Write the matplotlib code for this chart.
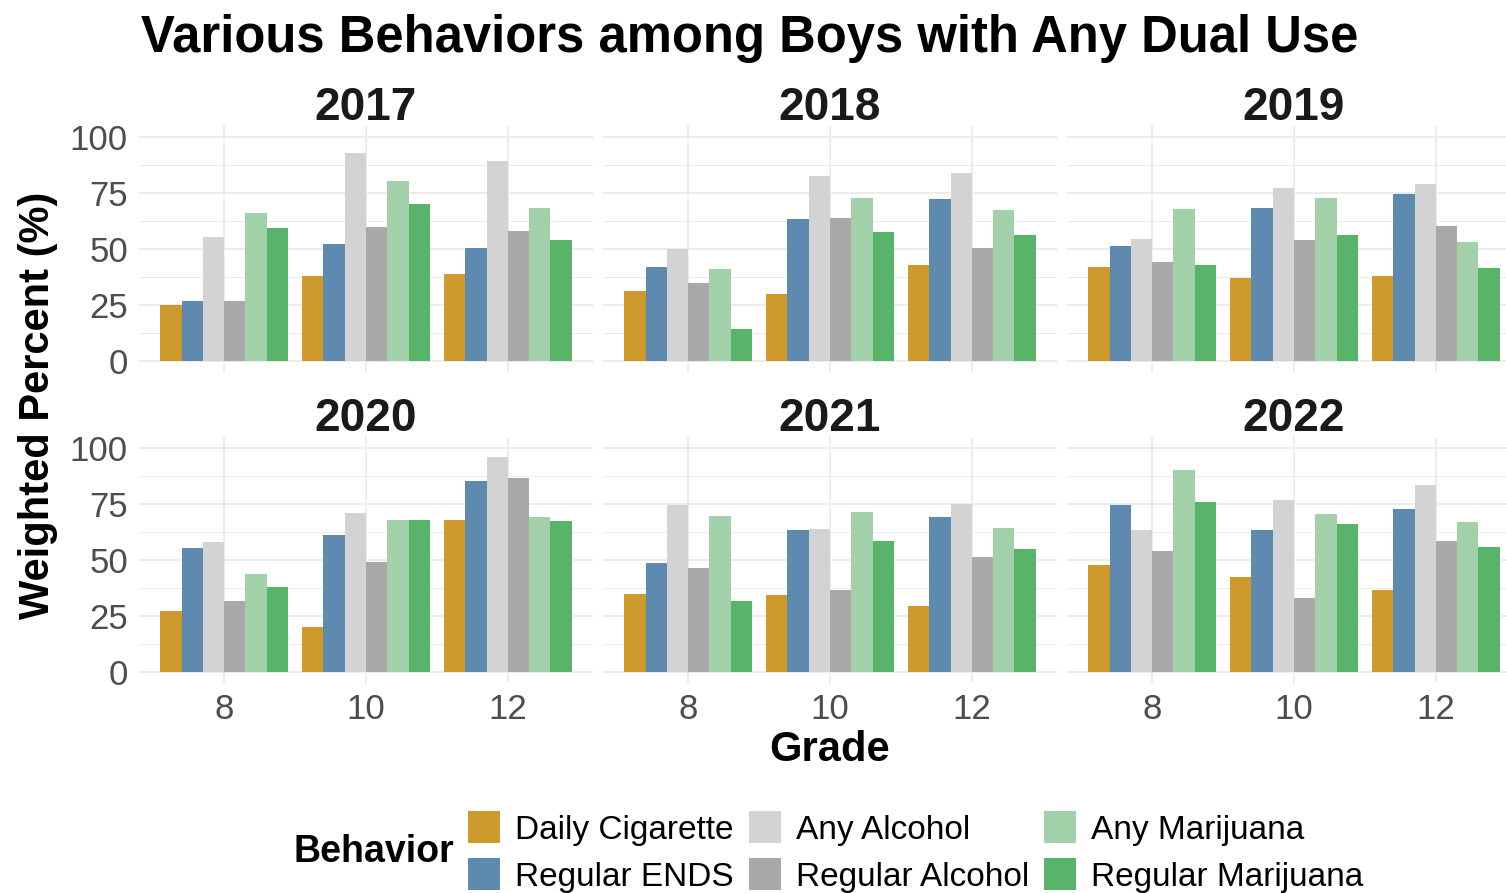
import numpy as np
import matplotlib
matplotlib.use("Agg")
import matplotlib.pyplot as plt
from matplotlib.patches import Patch

plt.rcParams['font.family'] = ['Liberation Sans', 'DejaVu Sans']

# data
years = ['2017', '2018', '2019', '2020', '2021', '2022']
grades = ['8', '10', '12']
behaviors = ['Daily Cigarette', 'Regular ENDS', 'Any Alcohol',
             'Regular Alcohol', 'Any Marijuana', 'Regular Marijuana']
colors = ['#CD9A2B', '#5F8AB0', '#D3D3D3', '#A9A9A9', '#A2D0A9', '#57B468']

# rows = behaviors, columns = grades 8/10/12
v2017 = [[25.1, 38.1, 38.9], [26.7, 52.1, 50.4], [55.2, 93.0, 89.2],
         [26.6, 59.9, 58.0], [66.0, 80.3, 68.5], [59.6, 70.2, 54.2]]
v2018 = [[31.3, 30.1, 43.0], [41.8, 63.6, 72.3], [50.0, 82.6, 84.1],
         [34.7, 63.8, 50.4], [41.1, 72.7, 67.4], [14.2, 57.6, 56.4]]
v2019 = [[42.0, 37.2, 37.8], [51.5, 68.5, 74.8], [54.5, 77.2, 79.2],
         [44.2, 54.0, 60.2], [68.0, 72.8, 53.1], [42.9, 56.4, 41.5]]
v2020 = [[27.4, 19.9, 67.7], [55.2, 61.0, 85.5], [58.2, 70.9, 96.0],
         [31.6, 49.1, 86.5], [43.6, 67.8, 69.4], [37.8, 67.8, 67.4]]
v2021 = [[34.7, 34.3, 29.5], [48.8, 63.4, 69.4], [74.8, 63.8, 75.2],
         [46.3, 36.6, 51.5], [69.7, 71.4, 64.2], [31.6, 58.5, 54.7]]
v2022 = [[47.6, 42.4, 36.5], [74.5, 63.4, 72.7], [63.4, 76.7, 83.5],
         [54.2, 32.8, 58.3], [90.1, 70.6, 66.9], [75.8, 66.3, 55.6]]
values = [v2017, v2018, v2019, v2020, v2021, v2022]

W, H = 1506, 893
fig = plt.figure(figsize=(W / 100, H / 100), dpi=100)

grid_col = '#EBEBEB'
panel_left = [139, 603, 1067]
panel_w = 454
panel_top = [126, 437]
panel_h = 246
bw = 0.15
x = np.arange(len(grades))

for k, year in enumerate(years):
    r, c = divmod(k, 3)
    ax = fig.add_axes([panel_left[c] / W, 1 - (panel_top[r] + panel_h) / H,
                       panel_w / W, panel_h / H])
    vals = values[k]
    for i, beh in enumerate(behaviors):
        ax.bar(x + (i - 2.5) * bw, vals[i], width=bw, color=colors[i],
               linewidth=0, zorder=3)
    ax.set_xlim(-0.6, 2.6)
    ax.set_ylim(-5, 105)
    ax.set_xticks(x)
    ax.set_yticks([0, 25, 50, 75, 100])
    ax.set_yticks([12.5, 37.5, 62.5, 87.5], minor=True)
    ax.grid(True, which='major', color=grid_col, lw=1.3, zorder=0)
    ax.grid(True, which='minor', axis='y', color=grid_col, lw=0.7, zorder=0)
    ax.tick_params(which='both', length=0, labelsize=25, labelcolor='#4D4D4D')
    ax.tick_params(axis='x', pad=7)
    ax.tick_params(axis='y', pad=8)
    if r == 1:
        ax.set_xticklabels(grades)
    else:
        ax.set_xticklabels([])
    if c != 0:
        ax.set_yticklabels([])
    for s in ax.spines.values():
        s.set_visible(False)
    ax.text(0.5, 1 + 6 / panel_h, year, transform=ax.transAxes, ha='center',
            va='baseline', fontsize=33, fontweight='bold', color='#1A1A1A')

fig.text(141 / W, 1 - 52 / H, 'Various Behaviors among Boys with Any Dual Use',
         ha='left', va='baseline', fontsize=36.5, fontweight='bold')
fig.text(830 / W, 1 - 750 / H, 'Grade', ha='center', va='center',
         fontsize=30, fontweight='bold')
fig.text(38 / W, 1 - 405 / H, 'Weighted Percent (%)', ha='center', va='center',
         rotation=90, fontsize=30, fontweight='bold')

handles = [Patch(facecolor=col, edgecolor='none') for col in colors]
fig.legend(handles, behaviors, ncol=3, loc='center left',
           bbox_to_anchor=(468 / W, 1 - 852 / H), frameon=False,
           fontsize=24, handlelength=0.96, handleheight=1.1,
           handletextpad=0.45, columnspacing=0.45, labelspacing=0.38,
           borderpad=0, borderaxespad=0)
fig.text(293 / W, 1 - 852 / H, 'Behavior', ha='left', va='center',
         fontsize=27, fontweight='bold')

fig.savefig('out.png', dpi=100)
